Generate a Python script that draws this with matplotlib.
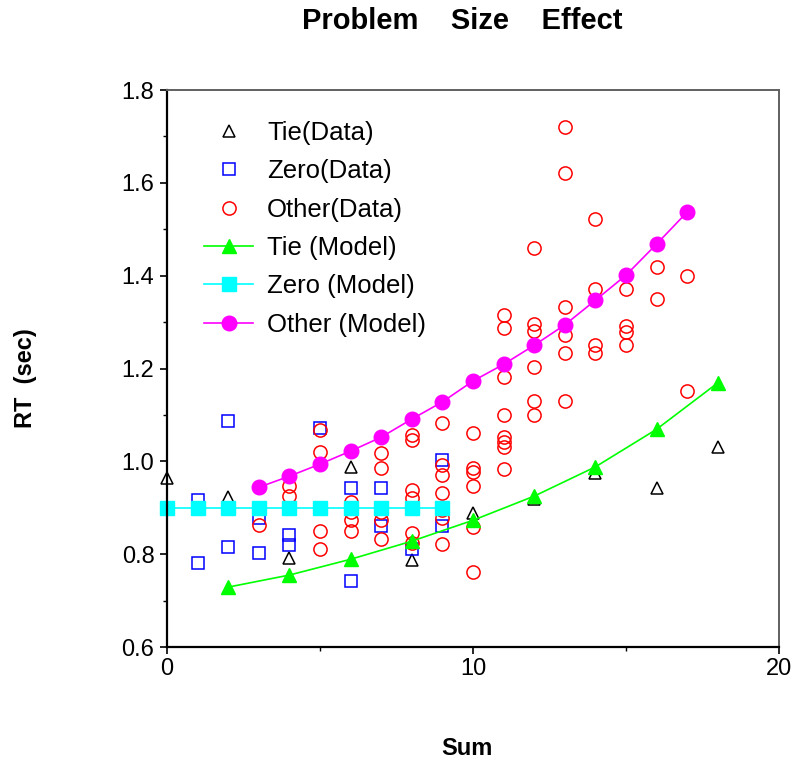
import numpy as np
import matplotlib.pyplot as plt
from matplotlib.ticker import MultipleLocator

plt.rcParams['font.family'] = ['Liberation Sans', 'DejaVu Sans']

# --- observed RTs ---
tie_sum = [0, 2, 4, 6, 8, 10, 12, 14, 16, 18]
tie_rt = [0.964, 0.923, 0.791, 0.988, 0.787, 0.888, 0.918, 0.974, 0.942, 1.031]

zero_sum = [1, 1, 2, 2, 3, 3, 4, 4, 5, 6, 6, 7, 7, 8, 9, 9]
zero_rt = [0.916, 0.781, 1.087, 0.815, 0.878, 0.802, 0.841, 0.819, 1.072,
           0.942, 0.742, 0.942, 0.860, 0.812, 1.003, 0.860]

other_sum = [3, 4, 4,
             5, 5, 5, 5,
             6, 6, 6, 6,
             7, 7, 7, 7, 7,
             8, 8, 8, 8, 8, 8,
             9, 9, 9, 9, 9, 9, 9,
             10, 10, 10, 10, 10, 10,
             11, 11, 11, 11, 11, 11, 11, 11,
             12, 12, 12, 12, 12, 12,
             13, 13, 13, 13, 13, 13,
             14, 14, 14, 14,
             15, 15, 15, 15,
             16, 16,
             17, 17]
other_rt = [0.862, 0.947, 0.925,
            1.067, 1.020, 0.850, 0.811,
            0.912, 0.890, 0.873, 0.850,
            1.018, 0.985, 0.890, 0.873, 0.832,
            1.056, 1.046, 0.938, 0.921, 0.845, 0.824,
            1.082, 0.992, 0.970, 0.931, 0.895, 0.878, 0.822,
            1.061, 0.985, 0.977, 0.947, 0.858, 0.761,
            1.315, 1.287, 1.181, 1.100, 1.052, 1.041, 1.031, 0.983,
            1.459, 1.296, 1.281, 1.203, 1.130, 1.100,
            1.720, 1.621, 1.332, 1.272, 1.233, 1.130,
            1.522, 1.371, 1.250, 1.233,
            1.371, 1.291, 1.278, 1.250,
            1.419, 1.350,
            1.400, 1.151]

# --- model predictions ---
tie_model_sum = [2, 4, 6, 8, 10, 12, 14, 16, 18]
tie_model_rt = [0.729, 0.755, 0.789, 0.828, 0.873, 0.925, 0.988, 1.069, 1.169]

zero_model_sum = [0, 1, 2, 3, 4, 5, 6, 7, 8, 9]
zero_model_rt = [0.90] * 10

other_model_sum = list(range(3, 18))
other_model_rt = [0.944, 0.968, 0.994, 1.022, 1.052, 1.091, 1.128, 1.173,
                  1.209, 1.250, 1.294, 1.347, 1.401, 1.468, 1.537]

fig = plt.figure(figsize=(7.94, 7.61), dpi=100)
ax = fig.add_axes([0.2103, 0.1498, 0.7707, 0.7319])

ax.plot(tie_sum, tie_rt, ls='none', marker='^', ms=9, mfc='none',
        mec='black', mew=1.1, label='Tie(Data)', clip_on=False)
ax.plot(zero_sum, zero_rt, ls='none', marker='s', ms=9, mfc='none',
        mec='#0000ff', mew=1.1, label='Zero(Data)', clip_on=False)
ax.plot(other_sum, other_rt, ls='none', marker='o', ms=9.5, mfc='none',
        mec='#ff0000', mew=1.1, label='Other(Data)', clip_on=False)
ax.plot(tie_model_sum, tie_model_rt, color='#00ff00', lw=1.2, marker='^',
        ms=10, mfc='#00ff00', mec='#00ff00', label='Tie (Model)', clip_on=False)
ax.plot(zero_model_sum, zero_model_rt, color='#00ffff', lw=1.2, marker='s',
        ms=10, mfc='#00ffff', mec='#00ffff', label='Zero (Model)', clip_on=False)
ax.plot(other_model_sum, other_model_rt, color='#ff00ff', lw=1.2, marker='o',
        ms=10.5, mfc='#ff00ff', mec='#ff00ff', label='Other (Model)', clip_on=False)

ax.set_xlim(0, 20)
ax.set_ylim(0.6, 1.8)
ax.xaxis.set_major_locator(MultipleLocator(10))
ax.xaxis.set_minor_locator(MultipleLocator(5))
ax.yaxis.set_major_locator(MultipleLocator(0.2))
ax.yaxis.set_minor_locator(MultipleLocator(0.1))
ax.yaxis.set_major_formatter(lambda v, p: f'{v:.1f}')
ax.tick_params(which='major', direction='out', length=5, width=1.2,
               labelsize=17, pad=4)
ax.tick_params(which='minor', direction='out', length=3, width=1.0)
ax.tick_params(axis='x', pad=3)

for side in ('left', 'bottom'):
    ax.spines[side].set_color('black')
    ax.spines[side].set_linewidth(1.6)
for side in ('top', 'right'):
    ax.spines[side].set_color('#606060')
    ax.spines[side].set_linewidth(1.4)

ax.set_title('Problem    Size    Effect', fontsize=21, fontweight='bold',
             x=0.483, y=1.1095, pad=0)
ax.set_xlabel('Sum', fontsize=17, fontweight='bold')
ax.xaxis.set_label_coords(0.49, -0.1616)
ax.set_ylabel('RT  (sec)', fontsize=17, fontweight='bold')
ax.yaxis.set_label_coords(-0.2124, 0.483)

ax.legend(loc='upper left', bbox_to_anchor=(0.044, 0.963), frameon=False,
          fontsize=18.5, handlelength=1.9, handletextpad=0.55,
          labelspacing=0.56, borderaxespad=0)

fig.savefig('out.png', dpi=100)
